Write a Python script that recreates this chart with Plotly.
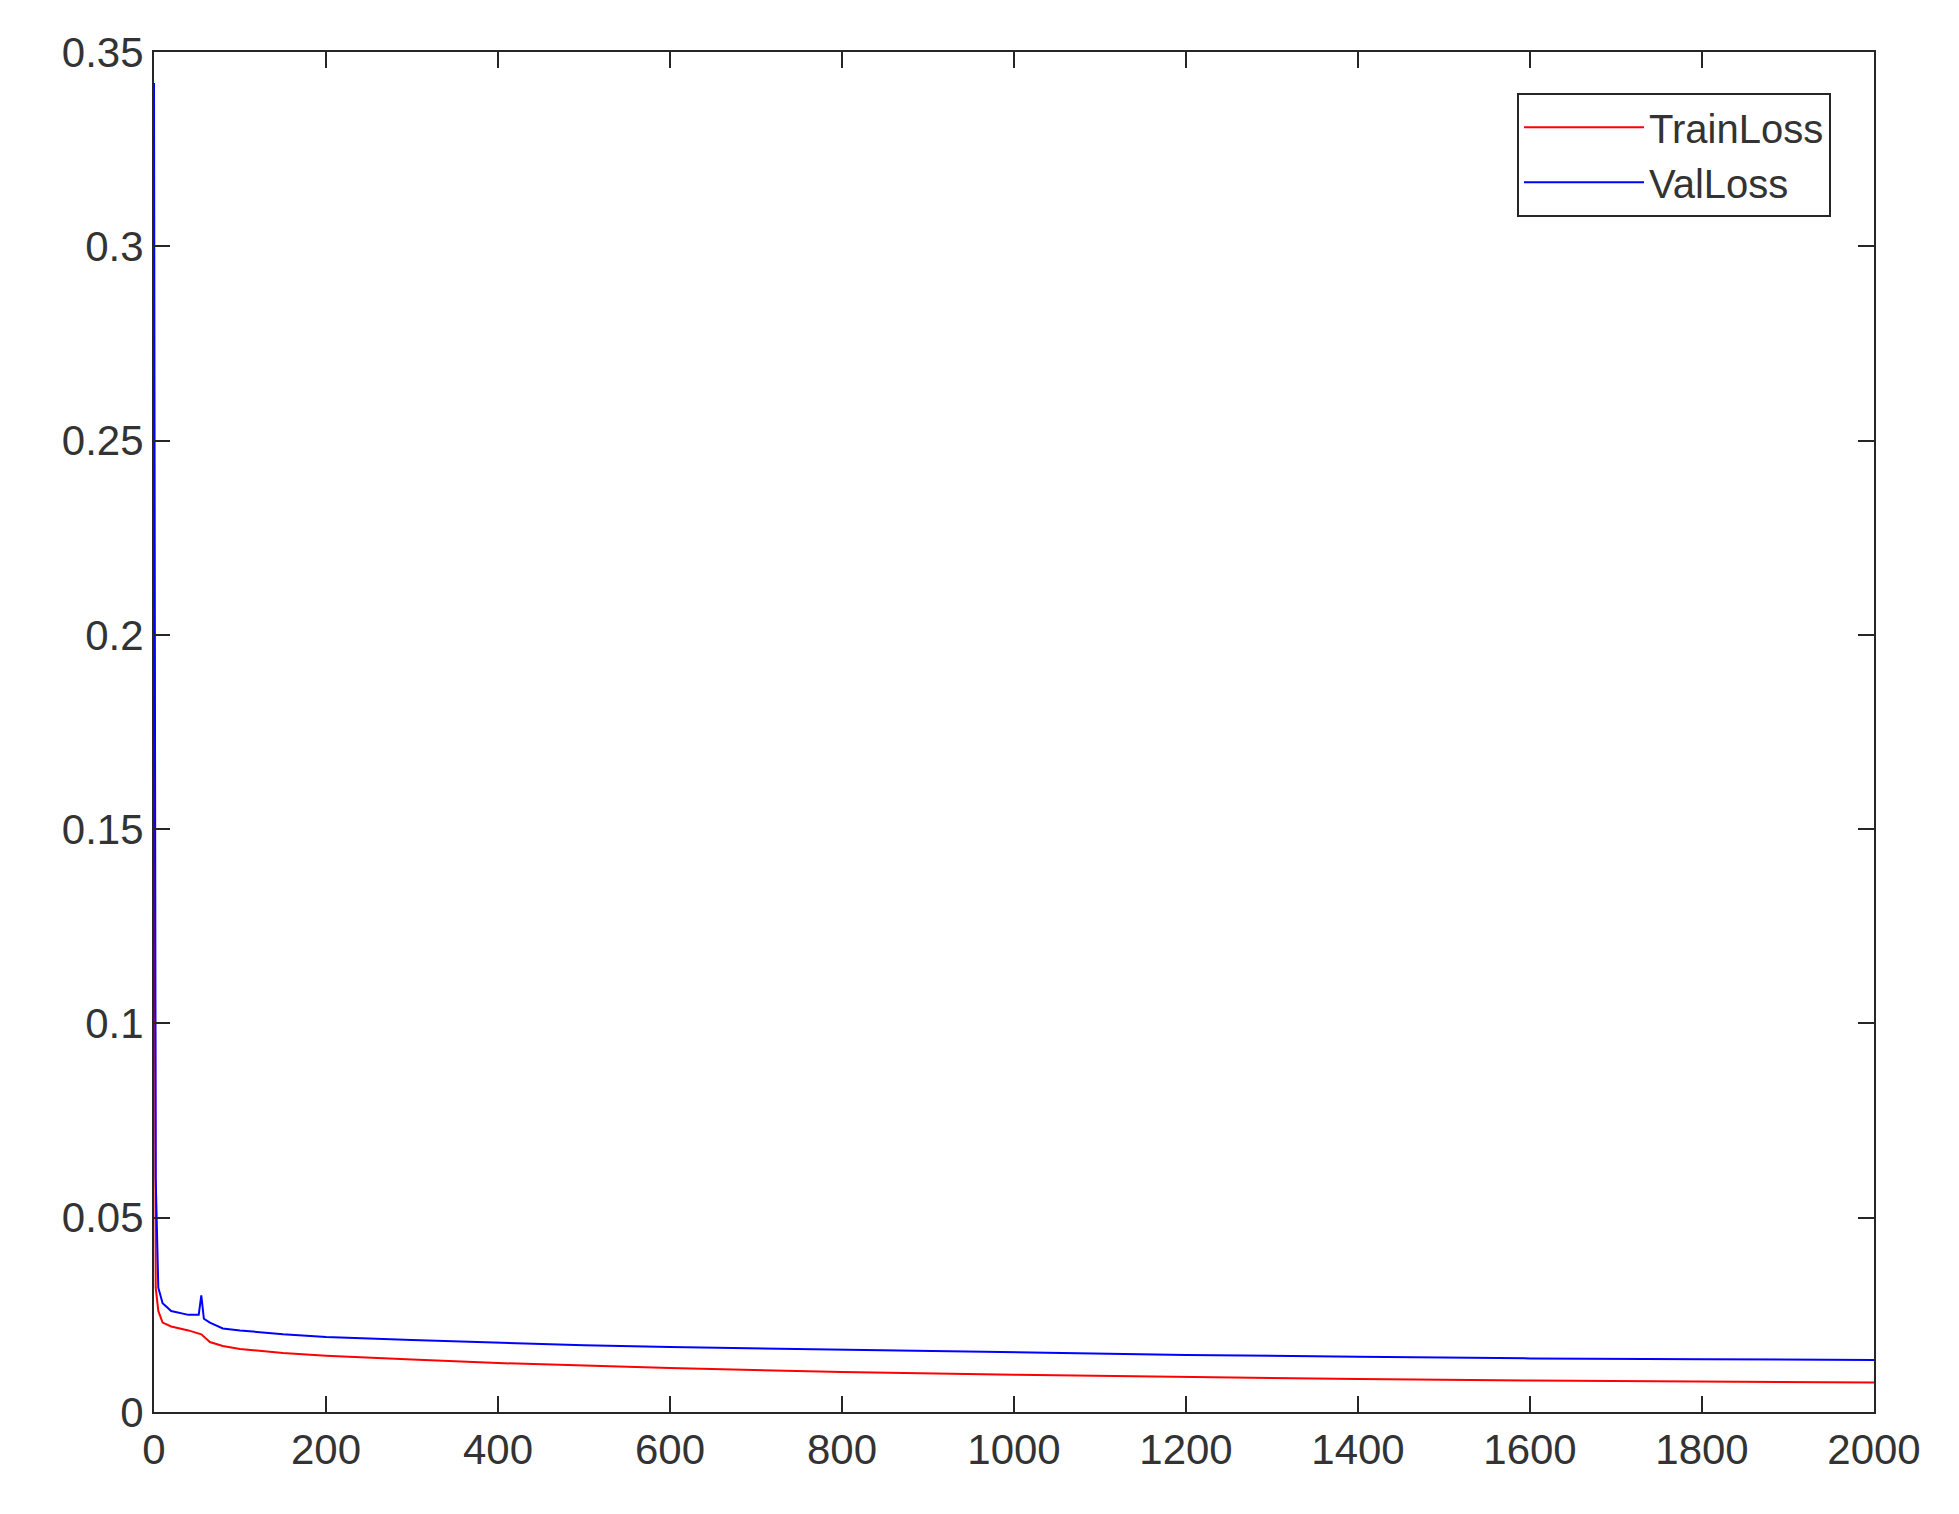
import plotly.graph_objects as go

epoch_val = [0, 2, 5, 10, 20, 40, 52, 55, 58, 65, 80, 100, 150, 200, 300, 400, 500, 600, 800, 1000, 1200, 1400, 1600, 1800, 2000]
val_loss = [0.342, 0.06, 0.032, 0.028, 0.026, 0.025, 0.025, 0.030, 0.024, 0.023, 0.0215, 0.021, 0.020, 0.0193, 0.0185, 0.0178, 0.0172, 0.0167, 0.016, 0.0153, 0.0147, 0.0142, 0.0138, 0.0136, 0.0134]

epoch_train = [0, 2, 5, 10, 20, 40, 55, 65, 80, 100, 150, 200, 300, 400, 600, 800, 1000, 1200, 1400, 1600, 1800, 2000]
train_loss = [0.21, 0.032, 0.026, 0.023, 0.022, 0.021, 0.020, 0.018, 0.017, 0.0162, 0.0152, 0.0145, 0.0135, 0.0126, 0.0113, 0.0103, 0.0096, 0.009, 0.0085, 0.0081, 0.0078, 0.0076]

fig = go.Figure()
fig.add_trace(go.Scatter(x=epoch_train, y=train_loss, mode='lines', name='TrainLoss',
                         line=dict(color='red', width=2)))
fig.add_trace(go.Scatter(x=epoch_val, y=val_loss, mode='lines', name='ValLoss',
                         line=dict(color='blue', width=2)))

axis_style = dict(showline=True, linecolor='#262626', linewidth=2, mirror='ticks',
                  ticks='inside', ticklen=16, tickcolor='#262626', tickwidth=2,
                  showgrid=False, zeroline=False, tickfont=dict(size=42, color='#333333'))

fig.update_layout(
    width=1959, height=1514,
    paper_bgcolor='white', plot_bgcolor='white',
    font=dict(family='Liberation Sans, Arial', color='#333333'),
    margin=dict(l=146, r=93, t=44, b=110),
    xaxis=dict(range=[0, 2000], dtick=200, **axis_style),
    yaxis=dict(range=[0, 0.35], dtick=0.05, tickformat='.2~f', **axis_style),
    legend=dict(x=0.975, y=0.97, xanchor='right', yanchor='top', itemwidth=120,
                bordercolor='#262626', borderwidth=2, bgcolor='white',
                font=dict(size=40, color='#333333')),
)

fig.write_html("out.html")
